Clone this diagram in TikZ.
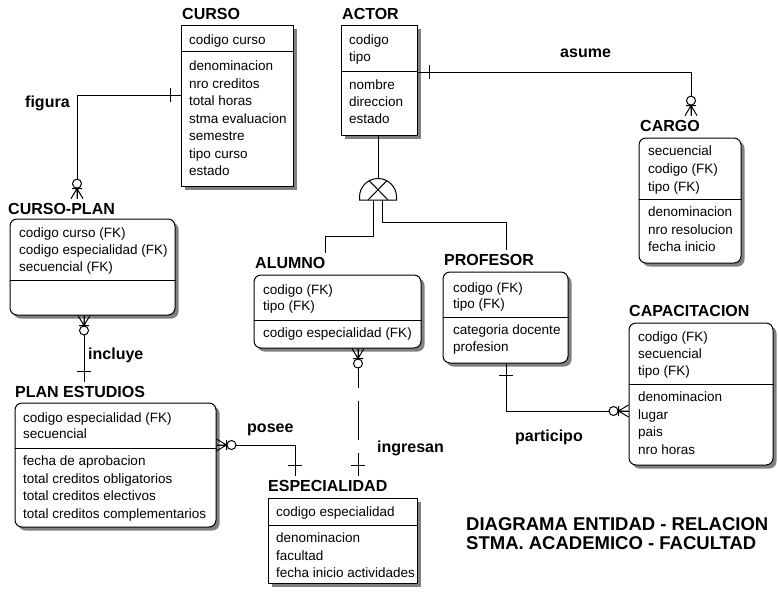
\documentclass[tikz,border=0pt]{standalone}
\usepackage{fontspec}
\setmainfont{Liberation Sans}
\usetikzlibrary{shadows}

\begin{document}
\begin{tikzpicture}[
    x=1pt, y=-1pt,
    entity/.style={draw, fill=white, line width=1pt, inner sep=0pt,
        drop shadow={shadow xshift=3.5pt, shadow yshift=-3.5pt, fill=black!50, opacity=1}},
    depend/.style={entity, rounded corners=7pt},
    title/.style={anchor=base west, inner xsep=0pt, inner ysep=4pt,
        font=\fontsize{16}{16}\selectfont\bfseries},
    attr/.style={anchor=base west, inner sep=0pt, font=\fontsize{13.5}{16}\selectfont},
    relname/.style={anchor=base west, inner sep=0pt, font=\fontsize{16}{16}\selectfont\bfseries},
    rel/.style={line width=1pt},
    zmany/.pic={
        \draw[rel] (0,-6) -- (10,0) (0,6) -- (10,0) (0,0) -- (10,0) (10,-5) -- (10,5);
        \draw[rel, fill=white] (15,0) circle[radius=4.5pt];
      },
    onebar/.pic={\draw[rel] (0,-7) -- (0,7);},
  ]

\useasboundingbox (0,0) rectangle (778,594);

  % CURSO
  \node[title] (cursot) at (182,20) {CURSO};
  \node[entity, minimum width=112pt, minimum height=160pt] (curso) at (237,106) {};
  \draw[rel] (curso.west |- 0,52) -- (curso.east |- 0,52);
  \node[attr] (cursok1) at (189,44.5) {codigo curso};
  \foreach \a [count=\i] in {denominacion, nro creditos, total horas, stma evaluacion, semestre, tipo curso, estado}
  \node[attr] (cursoa\i) at (189,53+17.5*\i) {\a};

  % ACTOR
  \node[title] (actort) at (342,20) {ACTOR};
  \node[entity, minimum width=76pt, minimum height=109pt] (actor) at (379,80.5) {};
  \draw[rel] (actor.west |- 0,71) -- (actor.east |- 0,71);
  \foreach \a [count=\i] in {codigo, tipo}
  \node[attr] (actork\i) at (349,27.5+17*\i) {\a};
  \foreach \a [count=\i] in {nombre, direccion, estado}
  \node[attr] (actora\i) at (349,72.5+17*\i) {\a};

  % CARGO
  \node[title] (cargot) at (640,131) {CARGO};
  \node[depend, minimum width=102pt, minimum height=125pt] (cargo) at (690,200.5) {};
  \draw[rel] (cargo.west |- 0,199) -- (cargo.east |- 0,199);
  \foreach \a [count=\i] in {secuencial, codigo (FK), tipo (FK)}
  \node[attr] (cargok\i) at (648,137.5+18*\i) {\a};
  \foreach \a [count=\i] in {denominacion, nro resolucion, fecha inicio}
  \node[attr] (cargoa\i) at (648,199+17.5*\i) {\a};

  % CURSO-PLAN
  \node[title] (cursoplant) at (8,214) {CURSO-PLAN};
  \node[depend, minimum width=165pt, minimum height=96pt] (cursoplan) at (92.5,267) {};
  \draw[rel] (cursoplan.west |- 0,280) -- (cursoplan.east |- 0,280);
  \foreach \a [count=\i] in {codigo curso (FK), codigo especialidad (FK), secuencial (FK)}
  \node[attr] (cursoplank\i) at (19,220.5+17*\i) {\a};

  % ALUMNO
  \node[title] (alumnot) at (255,268) {ALUMNO};
  \node[depend, minimum width=167pt, minimum height=73pt] (alumno) at (337.5,311.5) {};
  \draw[rel] (alumno.west |- 0,320) -- (alumno.east |- 0,320);
  \foreach \a [count=\i] in {codigo (FK), tipo (FK)}
  \node[attr] (alumnok\i) at (263,278.5+16*\i) {\a};
  \node[attr] (alumnoa1) at (263,337.5) {codigo especialidad (FK)};

  % PROFESOR
  \node[title] (profesort) at (444,265) {PROFESOR};
  \node[depend, minimum width=125pt, minimum height=91pt] (profesor) at (505.5,317.5) {};
  \draw[rel] (profesor.west |- 0,317) -- (profesor.east |- 0,317);
  \foreach \a [count=\i] in {codigo (FK), tipo (FK)}
  \node[attr] (profesork\i) at (453,276.5+16*\i) {\a};
  \foreach \a [count=\i] in {categoria docente, profesion}
  \node[attr] (profesora\i) at (453,317.5+17*\i) {\a};

  % CAPACITACION
  \node[title] (capacitaciont) at (629,316) {CAPACITACION};
  \node[depend, minimum width=144pt, minimum height=142pt] (capacitacion) at (701,394) {};
  \draw[rel] (capacitacion.west |- 0,384) -- (capacitacion.east |- 0,384);
  \foreach \a [count=\i] in {codigo (FK), secuencial, tipo (FK)}
  \node[attr] (capacitacionk\i) at (638,324.5+17*\i) {\a};
  \foreach \a [count=\i] in {denominacion, lugar, pais, nro horas}
  \node[attr] (capacitaciona\i) at (638,384+17.5*\i) {\a};

  % PLAN ESTUDIOS
  \node[title] (planestudiost) at (15,397) {PLAN ESTUDIOS};
  \node[depend, minimum width=201pt, minimum height=124pt] (planestudios) at (115.5,465) {};
  \draw[rel] (planestudios.west |- 0,448) -- (planestudios.east |- 0,448);
  \foreach \a [count=\i] in {codigo especialidad (FK), secuencial}
  \node[attr] (planestudiosk\i) at (23,406.5+16*\i) {\a};
  \foreach \a [count=\i] in {fecha de aprobacion, total creditos obligatorios, total creditos electivos, total creditos complementarios}
  \node[attr] (planestudiosa\i) at (23,448+17.5*\i) {\a};

  % ESPECIALIDAD
  \node[title] (especialidadt) at (268,491) {ESPECIALIDAD};
  \node[entity, minimum width=149pt, minimum height=85pt] (especialidad) at (342.5,540.5) {};
  \draw[rel] (especialidad.west |- 0,525) -- (especialidad.east |- 0,525);
  \node[attr] (especialidadk1) at (276,516.5) {codigo especialidad};
  \foreach \a [count=\i] in {denominacion, facultad, fecha inicio actividades}
  \node[attr] (especialidada\i) at (276,525+17.5*\i) {\a};

  % Subtype symbol of ACTOR
  \coordinate (isatop) at (378,178.5);
  \coordinate (isal) at (373,200);
  \coordinate (isar) at (382,200);
  \draw[rel] (actor.south -| isatop) -- (isatop);
  \draw[rel, fill=white] (359.5,200) -- (359.5,197) arc[start angle=180, end angle=0, radius=18.5pt]
    -- (396.5,200) -- cycle;
  \draw[rel] (369,180.5) -- (388,200) (387,180.5) -- (368,200);
  \draw[rel] (isal) |- (325,236) -- (alumnot.north -| 325,0);
  \draw[rel] (isar) |- (506,222) -- (profesort.north -| 506,0);

  % Relationships
  \draw[rel] (curso.west |- 0,95) -| (cursoplant.north -| 77,0);
  \draw[rel] (actor.east |- 0,72) -| (cargot.north -| 691,0);
  \draw[rel] (cursoplan.south -| 84,0) -- (planestudiost.north -| 84,0);
  \draw[rel] (planestudios.east |- 0,445) -| (especialidadt.north -| 295,0);
  \draw[rel, dash pattern=on 39pt off 13pt] (alumno.south -| 358,0) -- (especialidadt.north -| 358,0);
  \draw[rel] (profesor.south -| 506,0) |- (capacitacion.west |- 0,411);

  % Cardinality marks
  \pic[rotate=90] at (cursoplant.north -| 77,0) {zmany};
  \pic[rotate=90] at (cargot.north -| 691,0) {zmany};
  \pic[rotate=-90] at (cursoplan.south -| 84,0) {zmany};
  \pic[rotate=-90] at (alumno.south -| 358,0) {zmany};
  \pic at (planestudios.east |- 0,445) {zmany};
  \pic[rotate=180] at (capacitacion.west |- 0,411) {zmany};
  \pic at (170,95) {onebar};
  \pic at (429,72) {onebar};
  \pic[rotate=90] at (84,371) {onebar};
  \pic[rotate=90] at (295,465) {onebar};
  \pic[rotate=90] at (358,465) {onebar};
  \pic[rotate=90] at (506,375) {onebar};

  % Relationship names
  \node[relname] (figural) at (25,107) {figura};
  \node[relname] (asumel) at (560,58) {asume};
  \node[relname] (incluyel) at (88,359) {incluye};
  \node[relname] (poseel) at (247,432) {posee};
  \node[relname] (ingresanl) at (377,452) {ingresan};
  \node[relname] (participol) at (515,441) {participo};

  % Diagram title
  \node[relname, font=\fontsize{18.5}{18.5}\selectfont\bfseries] (diagt1) at (466,530) {DIAGRAMA ENTIDAD - RELACION};
  \node[relname, font=\fontsize{18.5}{18.5}\selectfont\bfseries] (diagt2) at (466,549) {STMA. ACADEMICO - FACULTAD};

\end{tikzpicture}
\end{document}
